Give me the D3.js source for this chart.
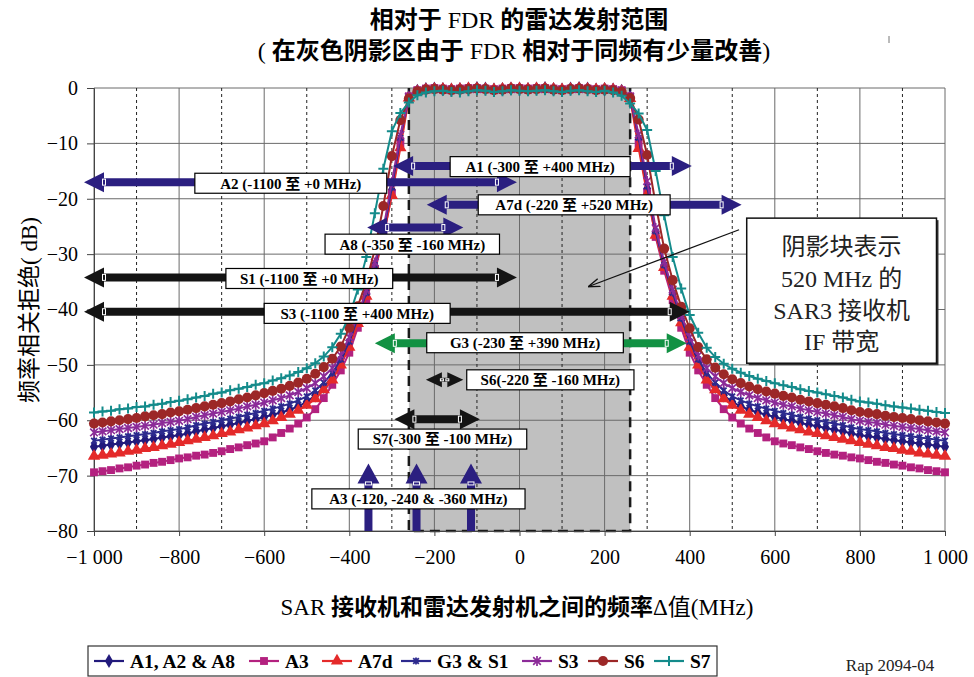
<!DOCTYPE html>
<html>
<head>
<meta charset="utf-8">
<script src="https://cdn.jsdelivr.net/npm/d3@7"></script>
<style>
  body { margin: 0; background: #fff; }
  svg { display: block; }
</style>
</head>
<body>
<svg id="chart" width="974" height="677"></svg>
<script>
// Frequency offset between SAR receiver and radar transmitter (MHz), one sample every 20 MHz
const freq = [
  -1000,-980,-960,-940,-920,-900,-880,-860,-840,-820,-800,-780,-760,-740,-720,-700,-680,-660,-640,-620,
  -600,-580,-560,-540,-520,-500,-480,-460,-440,-420,-400,-380,-360,-340,-320,-300,-280,-260,-240,-220,
  -200,-180,-160,-140,-120,-100,-80,-60,-40,-20,0,20,40,60,80,100,120,140,160,180,
  200,220,240,260,280,300,320,340,360,380,400,420,440,460,480,500,520,540,560,580,
  600,620,640,660,680,700,720,740,760,780,800,820,840,860,880,900,920,940,960,980,1000
];

// Frequency dependent rejection (dB) for each radar
const rejA1 = [
  -64.8,-64.6,-64.4,-64.2,-64.0,-63.8,-63.6,-63.4,-63.1,-62.9,-62.7,-62.4,-62.0,-61.7,-61.4,-61.1,-60.8,-60.5,-60.1,-59.8,-59.4,-59.0,-58.6,-58.1,-57.5,-56.7,-55.5,-54.0,-52.1,-49.5,
  -46.2,-42.0,-37.3,-32.2,-26.3,-18.4,-9.4,-1.6,
  -0.5,-0.2,-0.1,-0.2,-0.3,-0.2,-0.1,0.0,-0.1,-0.3,-0.2,-0.1,-0.1,-0.2,-0.1,0.0,-0.2,-0.3,-0.1,0.0,-0.1,-0.3,-0.2,-0.3,-0.5,
  -1.6,-9.3,-18.2,-26.2,-32.2,-37.3,-42.0,-46.2,
  -49.5,-52.1,-54.0,-55.5,-56.7,-57.5,-58.1,-58.6,-59.0,-59.4,-59.8,-60.1,-60.5,-60.8,-61.1,-61.4,-61.7,-62.0,-62.4,-62.7,-62.9,-63.1,-63.4,-63.6,-63.8,-64.0,-64.2,-64.4,-64.6,-64.8
];
const rejA3 = [
  -69.4,-69.2,-69.0,-68.7,-68.5,-68.2,-68.0,-67.7,-67.5,-67.2,-66.9,-66.7,-66.4,-66.2,-65.9,-65.6,-65.2,-64.9,-64.5,-64.2,-63.8,-63.1,-62.3,-61.5,-60.6,-59.5,-58.0,-56.0,-53.6,-51.0,
  -47.8,-43.3,-38.3,-33.0,-27.0,-19.0,-10.0,-1.5,
  -0.4,-0.1,0.0,-0.1,-0.2,-0.1,0.0,0.0,-0.1,-0.2,-0.1,0.0,0.0,-0.1,0.0,0.0,-0.1,-0.2,-0.1,0.0,-0.1,-0.2,-0.1,-0.2,-0.4,
  -1.5,-10.1,-18.9,-26.9,-33.0,-38.3,-43.3,-47.8,
  -51.0,-53.6,-56.0,-58.0,-59.5,-60.6,-61.5,-62.3,-63.1,-63.8,-64.2,-64.5,-64.9,-65.2,-65.6,-65.9,-66.2,-66.4,-66.7,-66.9,-67.2,-67.5,-67.7,-68.0,-68.2,-68.5,-68.7,-69.0,-69.2,-69.4
];
const rejA7d = [
  -66.5,-66.3,-66.1,-65.9,-65.6,-65.4,-65.1,-64.9,-64.6,-64.3,-64.0,-63.7,-63.4,-63.1,-62.8,-62.4,-62.1,-61.7,-61.4,-61.0,-60.6,-60.1,-59.5,-58.9,-58.2,-57.3,-56.1,-54.5,-52.7,-50.0,
  -46.8,-42.5,-37.6,-32.5,-26.8,-19.4,-10.8,-1.8,
  -0.6,-0.3,-0.2,-0.2,-0.3,-0.2,-0.1,-0.1,-0.2,-0.3,-0.2,-0.1,-0.1,-0.2,-0.1,-0.1,-0.2,-0.3,-0.2,-0.1,-0.2,-0.3,-0.2,-0.3,-0.6,
  -1.9,-10.9,-19.2,-26.6,-32.4,-37.6,-42.4,-46.8,
  -50.0,-52.7,-54.5,-56.1,-57.3,-58.2,-58.9,-59.5,-60.1,-60.6,-61.0,-61.4,-61.7,-62.1,-62.4,-62.8,-63.1,-63.4,-63.7,-64.0,-64.3,-64.6,-64.9,-65.1,-65.4,-65.6,-65.9,-66.1,-66.3,-66.5
];
const rejG3 = [
  -63.7,-63.5,-63.3,-63.1,-62.9,-62.7,-62.5,-62.3,-62.0,-61.8,-61.6,-61.3,-60.9,-60.6,-60.3,-60.0,-59.7,-59.4,-59.0,-58.7,-58.3,-57.9,-57.5,-57.0,-56.4,-55.7,-54.6,-53.2,-51.5,-49.0,
  -45.8,-41.5,-37.0,-32.0,-26.0,-18.0,-9.0,-1.6,
  -0.6,-0.3,-0.3,-0.4,-0.4,-0.3,-0.3,-0.2,-0.3,-0.4,-0.3,-0.2,-0.3,-0.3,-0.3,-0.2,-0.3,-0.4,-0.3,-0.2,-0.3,-0.4,-0.3,-0.4,-0.6,
  -1.7,-9.0,-17.8,-25.9,-32.0,-37.0,-41.6,-45.8,
  -49.0,-51.5,-53.2,-54.6,-55.7,-56.4,-57.0,-57.5,-57.9,-58.3,-58.7,-59.0,-59.4,-59.7,-60.0,-60.3,-60.6,-60.9,-61.3,-61.6,-61.8,-62.0,-62.3,-62.5,-62.7,-62.9,-63.1,-63.3,-63.5,-63.7
];
const rejS3 = [
  -62.2,-62.0,-61.8,-61.6,-61.4,-61.2,-61.0,-60.8,-60.5,-60.3,-60.1,-59.8,-59.4,-59.1,-58.8,-58.5,-58.2,-57.9,-57.5,-57.2,-56.8,-56.4,-56.0,-55.5,-54.9,-54.2,-53.3,-52.1,-50.6,-48.3,
  -45.0,-41.0,-36.5,-31.5,-25.5,-17.0,-8.5,-1.6,
  -0.5,-0.3,-0.2,-0.3,-0.4,-0.3,-0.2,-0.2,-0.2,-0.4,-0.3,-0.2,-0.2,-0.3,-0.2,-0.2,-0.3,-0.4,-0.2,-0.2,-0.2,-0.4,-0.3,-0.3,-0.5,
  -1.6,-8.4,-16.8,-25.3,-31.4,-36.4,-41.0,-45.0,
  -48.3,-50.6,-52.1,-53.3,-54.2,-54.9,-55.5,-56.0,-56.4,-56.8,-57.2,-57.5,-57.9,-58.2,-58.5,-58.8,-59.1,-59.4,-59.8,-60.1,-60.3,-60.5,-60.8,-61.0,-61.2,-61.4,-61.6,-61.8,-62.0,-62.2
];
const rejS6 = [
  -60.6,-60.4,-60.2,-60.0,-59.8,-59.6,-59.3,-59.1,-58.9,-58.6,-58.4,-58.1,-57.8,-57.5,-57.2,-56.9,-56.6,-56.2,-55.9,-55.5,-55.1,-54.7,-54.3,-53.8,-53.2,-52.5,-51.6,-50.4,-48.9,-46.7,
  -43.3,-39.4,-35.0,-29.2,-21.3,-12.3,-5.8,-1.9,
  -0.6,-0.3,-0.2,-0.3,-0.4,-0.3,-0.2,-0.1,-0.2,-0.4,-0.3,-0.1,-0.2,-0.3,-0.2,-0.1,-0.3,-0.4,-0.2,-0.1,-0.2,-0.4,-0.3,-0.4,-0.7,
  -1.8,-5.7,-12.1,-21.0,-29.0,-34.7,-39.5,-43.4,
  -46.8,-49.0,-50.5,-51.7,-52.6,-53.3,-53.9,-54.4,-54.8,-55.2,-55.6,-55.9,-56.3,-56.6,-56.9,-57.2,-57.5,-57.8,-58.2,-58.5,-58.7,-58.9,-59.2,-59.4,-59.6,-59.8,-60.0,-60.2,-60.4,-60.6
];
const rejS7 = [
  -58.6,-58.4,-58.3,-58.0,-57.9,-57.6,-57.5,-57.2,-57.0,-56.7,-56.5,-56.2,-55.9,-55.6,-55.2,-55.0,-54.6,-54.3,-54.0,-53.6,-53.3,-52.8,-52.4,-51.9,-51.3,-50.6,-49.7,-48.5,-46.8,-44.4,
  -41.2,-36.4,-30.5,-22.6,-14.6,-7.8,-4.5,-2.6,
  -1.3,-0.8,-0.6,-0.5,-0.7,-0.8,-0.6,-0.4,-0.5,-0.7,-0.6,-0.4,-0.5,-0.6,-0.5,-0.4,-0.6,-0.7,-0.5,-0.4,-0.6,-0.7,-0.5,-0.8,-1.4,
  -2.8,-4.6,-7.6,-15.0,-23.0,-30.5,-36.2,-41.0,
  -44.2,-46.9,-48.6,-49.8,-50.7,-51.4,-52.0,-52.5,-52.9,-53.3,-53.7,-54.0,-54.4,-54.7,-55.0,-55.3,-55.6,-55.9,-56.3,-56.6,-56.8,-57.0,-57.3,-57.5,-57.7,-57.9,-58.1,-58.3,-58.5,-58.7
];

const seriesNames = ["A1, A2 & A8", "A3", "A7d", "G3 & S1", "S3", "S6", "S7"];
const seriesValues = [rejA1, rejA3, rejA7d, rejG3, rejS3, rejS6, rejS7];

// Axis ticks
const xTicks = [-1000, -800, -600, -400, -200, 0, 200, 400, 600, 800, 1000];
const xMinorGrid = [-900, -700, -500, -300, -100, 100, 300, 500, 700, 900];
const yTicks = [0, -10, -20, -30, -40, -50, -60, -70, -80];

// SAR3 receiver IF band (520 MHz)
const ifBand = [-260, 260];

// ---------- styling ----------
const seriesStyle = [
  { color: "#221a7c", marker: "diamond" },
  { color: "#b3217f", marker: "square" },
  { color: "#e42a2a", marker: "triangle" },
  { color: "#2d2a8e", marker: "star" },
  { color: "#8c2b98", marker: "asterisk" },
  { color: "#9c2727", marker: "circle" },
  { color: "#148b8b", marker: "plus" }
];
const NAVY = "#2b1f80", BLACK = "#141414", GREEN = "#129143";
const SERIF = "'Liberation Serif', 'Times New Roman', 'Noto Sans CJK SC', serif";
const CJK = "'Liberation Serif', 'Noto Sans CJK SC', sans-serif";

// Range annotations: arrow span (MHz) at a level (dB) and their label boxes
const rangeNotes = [
  { text: "A1 (-300 至 +400 MHz)",  from: -297, to: 405,  level: -14.1, color: NAVY,  box: [-163, 260], boxLevel: -14.2 },
  { text: "A2 (-1100 至 +0 MHz)",   from: -1100, to: -6,  level: -17.0, color: NAVY,  box: [-763, -312], boxLevel: -17.2 },
  { text: "A7d (-220 至 +520 MHz)", from: -218, to: 522,  level: -21.1, color: NAVY,  box: [-97, 354], boxLevel: -21.1 },
  { text: "A8 (-350 至 -160 MHz)",  from: -358, to: -132, level: -25.2, color: NAVY,  box: [-457, -47], boxLevel: -28.2 },
  { text: "S1 (-1100 至 +0 MHz)",   from: -1100, to: -6,  level: -34.2, color: BLACK, box: [-690, -298], boxLevel: -34.4 },
  { text: "S3 (-1100 至 +400 MHz)", from: -1100, to: 400, level: -40.4, color: BLACK, box: [-600, -163], boxLevel: -40.7 },
  { text: "G3 (-230 至 +390 MHz)",  from: -340, to: 393,  level: -46.1, color: GREEN, box: [-218, 244], boxLevel: -46.0 },
  { text: "S6(-220 至 -160 MHz)",   from: -220, to: -132, level: -52.7, color: BLACK, box: [-124, 269], boxLevel: -52.7, small: true },
  { text: "S7(-300 至 -100 MHz)",   from: -294, to: -93,  level: -59.8, color: BLACK, box: [-379, 17], boxLevel: -63.4 }
];
const a3Offsets = [-355, -242, -114];
const a3Top = -67.8;

// ---------- layout ----------
const svg = d3.select("#chart");
const plot = { left: 94, right: 945, top: 88, bottom: 531 };
const x = d3.scaleLinear().domain([-1000, 1000]).range([plot.left, plot.right]);
const y = d3.scaleLinear().domain([-80, 0]).range([plot.bottom, plot.top]);

const loc = d3.formatLocale({ decimal: ".", thousands: " ", grouping: [3], currency: ["", ""], minus: "\u2212" });
const fmt = loc.format(",d");

// Text made of runs in different fonts/weights
function mixedText(g, parts, attrs) {
  const t = g.append("text");
  Object.entries(attrs).forEach(([k, v]) => t.attr(k, v));
  parts.forEach(([s, weight, fam]) => {
    t.append("tspan").attr("font-weight", weight).attr("font-family", fam || CJK).text(s);
  });
  return t;
}

// Titles
mixedText(svg, [["相对于 ", "bold"], ["FDR", "normal", SERIF], [" 的雷达发射范围", "bold"]],
  { x: 519, y: 28, "text-anchor": "middle", "font-size": 24, fill: "#000" });
mixedText(svg, [["(  ", "normal", SERIF], ["在灰色阴影区由于 ", "bold"], ["FDR", "normal", SERIF], [" 相对于同频有少量改善", "bold"], [")", "normal", SERIF]],
  { x: 514, y: 59, "text-anchor": "middle", "font-size": 24, fill: "#000" });
svg.append("line").attr("x1", 889).attr("x2", 889).attr("y1", 36).attr("y2", 43)
  .attr("stroke", "#777").attr("stroke-width", 1);

// Shaded IF band
const gBand = svg.append("g");
gBand.append("rect")
  .attr("x", x(ifBand[0])).attr("y", y(0))
  .attr("width", x(ifBand[1]) - x(ifBand[0])).attr("height", y(-80) - y(0))
  .attr("fill", "#c0c0c0");

// Grid
const gGrid = svg.append("g");
gGrid.selectAll("line.h").data(yTicks).join("line")
  .attr("x1", plot.left).attr("x2", plot.right)
  .attr("y1", d => y(d)).attr("y2", d => y(d))
  .attr("stroke", "#6a6a6a").attr("stroke-width", 1);
gGrid.selectAll("line.vmaj").data(xTicks).join("line")
  .attr("x1", d => x(d)).attr("x2", d => x(d))
  .attr("y1", plot.top).attr("y2", plot.bottom)
  .attr("stroke", "#6a6a6a").attr("stroke-width", 1);
gGrid.selectAll("line.vmin").data(xMinorGrid).join("line")
  .attr("x1", d => x(d)).attr("x2", d => x(d))
  .attr("y1", plot.top).attr("y2", plot.bottom)
  .attr("stroke", "#222").attr("stroke-width", 1).attr("stroke-dasharray", "3,3");

// Dashed outline of the IF band
const bx0 = x(ifBand[0]), bx1 = x(ifBand[1]);
svg.append("path")
  .attr("d", `M${bx0},${y(0)}V${y(-80)}H${bx1}V${y(0)}`)
  .attr("fill", "none").attr("stroke", "#1a1a1a").attr("stroke-width", 2.5)
  .attr("stroke-dasharray", "10,6");

// Axes
const xAxis = d3.axisBottom(x).tickValues(xTicks).tickFormat(fmt).tickSize(5).tickPadding(14);
const gx = svg.append("g").attr("transform", `translate(0,${plot.bottom})`).call(xAxis);
gx.select(".domain").attr("stroke", "#444");
gx.selectAll(".tick line").attr("stroke", "#444");
gx.selectAll("text").attr("font-family", SERIF).attr("font-size", 20).attr("fill", "#000");

const yAxis = d3.axisLeft(y).tickValues(yTicks).tickFormat(fmt).tickSize(7).tickPadding(9);
const gy = svg.append("g").attr("transform", `translate(${plot.left},0)`).call(yAxis);
gy.select(".domain").attr("stroke", "#444");
gy.selectAll(".tick line").attr("stroke", "#444");
gy.selectAll("text").attr("font-family", SERIF).attr("font-size", 20).attr("fill", "#000");

// Axis titles
mixedText(svg, [["SAR ", "normal", SERIF], ["接收机和雷达发射机之间的频率", "bold"], ["Δ值(MHz)", "normal", SERIF]],
  { x: 517, y: 615, "text-anchor": "middle", "font-size": 23, fill: "#000" });
mixedText(svg, [["频率相关拒绝", "normal"], ["( dB)", "normal", SERIF]],
  { transform: "translate(37,310) rotate(-90)", "text-anchor": "middle", "font-size": 23, fill: "#000" });

// Marker glyphs
function drawMarker(sel, type, color) {
  switch (type) {
    case "diamond":
      sel.append("path").attr("d", d3.symbol(d3.symbolDiamond, 58)()).attr("fill", color); break;
    case "square":
      sel.append("path").attr("d", d3.symbol(d3.symbolSquare, 62)()).attr("fill", color); break;
    case "triangle":
      sel.append("path").attr("d", d3.symbol(d3.symbolTriangle, 66)()).attr("fill", color); break;
    case "circle":
      sel.append("path").attr("d", d3.symbol(d3.symbolCircle, 80)()).attr("fill", color); break;
    case "star":
      sel.append("path").attr("d", "M-2.8,-2.8L2.8,2.8M-2.8,2.8L2.8,-2.8M0,-3.6V3.6")
        .attr("stroke", color).attr("stroke-width", 1.8).attr("fill", "none"); break;
    case "asterisk":
      sel.append("path").attr("d", "M-3.8,-3.8L3.8,3.8M-3.8,3.8L3.8,-3.8M0,-5V5")
        .attr("stroke", color).attr("stroke-width", 1.7).attr("fill", "none"); break;
    case "plus":
      sel.append("path").attr("d", "M-5,0H5M0,-5V5")
        .attr("stroke", color).attr("stroke-width", 2).attr("fill", "none"); break;
  }
}

// Curves
const line = d3.line().x(d => x(d[0])).y(d => y(d[1]));
const gSeries = svg.append("g");
seriesValues.forEach((vals, i) => {
  const pts = freq.map((f, k) => [f, vals[k]]);
  const st = seriesStyle[i];
  const g = gSeries.append("g");
  g.append("path").datum(pts).attr("d", line)
    .attr("fill", "none").attr("stroke", st.color).attr("stroke-width", 2);
  g.selectAll("g.m").data(pts).join("g")
    .attr("transform", d => `translate(${x(d[0])},${y(d[1])})`)
    .each(function () { drawMarker(d3.select(this), st.marker, st.color); });
});

// Block arrows
function hArrow(g, xa, xb, yc, color, o) {
  const sh = o.shaft / 2, hh = o.head / 2, hl = o.len;
  const pts = [[xa, yc], [xa + hl, yc - hh], [xa + hl, yc - sh], [xb - hl, yc - sh], [xb - hl, yc - hh],
               [xb, yc], [xb - hl, yc + hh], [xb - hl, yc + sh], [xa + hl, yc + sh], [xa + hl, yc + hh]];
  g.append("polygon").attr("points", pts.map(p => p.join(",")).join(" ")).attr("fill", color);
  [xa + hl, xb - hl].forEach(px => {
    g.append("rect").attr("x", px - 1.5).attr("y", yc - sh + 1).attr("width", 3).attr("height", 2 * sh - 2)
      .attr("fill", color).attr("stroke", "#fff").attr("stroke-width", 1);
  });
}
function vArrow(g, xc, ya, yb, color, o) { // ya = tip (top), yb = base
  const sh = o.shaft / 2, hh = o.head / 2, hl = o.len;
  const pts = [[xc, ya], [xc + hh, ya + hl], [xc + sh, ya + hl], [xc + sh, yb], [xc - sh, yb], [xc - sh, ya + hl], [xc - hh, ya + hl]];
  g.append("polygon").attr("points", pts.map(p => p.join(",")).join(" ")).attr("fill", color);
  g.append("rect").attr("x", xc - sh + 1).attr("y", ya + hl - 1.5).attr("width", 2 * sh - 2).attr("height", 3)
    .attr("fill", color).attr("stroke", "#fff").attr("stroke-width", 1);
}
function labelBox(g, text, x0, x1, yc) {
  const h = 20;
  g.append("rect").attr("x", x0).attr("y", yc - h / 2).attr("width", x1 - x0).attr("height", h)
    .attr("fill", "#fff").attr("stroke", "#000").attr("stroke-width", 1.2);
  g.append("text").attr("x", (x0 + x1) / 2).attr("y", yc).attr("dy", "0.36em")
    .attr("text-anchor", "middle").attr("font-family", CJK).attr("font-weight", "bold")
    .attr("font-size", 15).attr("fill", "#000").text(text);
}

const gNotes = svg.append("g");
const xEdgeMin = x.invert(plot.left - 10);
rangeNotes.forEach(n => {
  const xa = x(Math.max(n.from, xEdgeMin)), xb = x(n.to);
  const o = n.small ? { shaft: 4, head: 15, len: 16 } : { shaft: 8, head: 20, len: 20 };
  hArrow(gNotes, xa, xb, y(n.level), n.color, o);
});
// A3 spot frequencies: vertical arrows from the axis floor
a3Offsets.forEach(f => vArrow(gNotes, x(f), y(a3Top), y(-80), NAVY, { shaft: 8, head: 22, len: 20 }));
rangeNotes.forEach(n => labelBox(gNotes, n.text, x(n.box[0]), x(n.box[1]), y(n.boxLevel)));
labelBox(gNotes, "A3 (-120, -240 & -360 MHz)", x(-488), x(13), y(-74.2));

// Explanatory note with pointer into the band
const gInfo = svg.append("g");
svg.append("defs").append("marker").attr("id", "ptr").attr("viewBox", "0 0 10 10")
  .attr("refX", 9).attr("refY", 5).attr("markerWidth", 9).attr("markerHeight", 9).attr("orient", "auto")
  .append("path").attr("d", "M0,1.5L10,5L0,8.5").attr("fill", "none").attr("stroke", "#111").attr("stroke-width", 1.2);
gInfo.append("line").attr("x1", x(516)).attr("y1", y(-25.6)).attr("x2", x(164)).attr("y2", y(-35.8))
  .attr("stroke", "#111").attr("stroke-width", 1.3).attr("marker-end", "url(#ptr)");
const ibx0 = x(534), ibx1 = x(980), iby0 = y(-23.5), iby1 = y(-49.7);
gInfo.append("rect").attr("x", ibx0 + 2).attr("y", iby0 + 2).attr("width", ibx1 - ibx0).attr("height", iby1 - iby0).attr("fill", "#333");
gInfo.append("rect").attr("x", ibx0).attr("y", iby0).attr("width", ibx1 - ibx0).attr("height", iby1 - iby0)
  .attr("fill", "#fff").attr("stroke", "#111").attr("stroke-width", 1.5);
const infoLines = [
  [["阴影块表示", "normal"]],
  [["520 MHz ", "normal", SERIF], ["的", "normal"]],
  [["SAR3 ", "normal", SERIF], ["接收机", "normal"]],
  [["IF ", "normal", SERIF], ["带宽", "normal"]]
];
infoLines.forEach((parts, i) => {
  mixedText(gInfo, parts, { x: (ibx0 + ibx1) / 2, y: iby0 + 37 + i * 31.7, "text-anchor": "middle", "font-size": 24, fill: "#222" });
});

// Legend
const gLeg = svg.append("g");
gLeg.append("rect").attr("x", 88).attr("y", 646).attr("width", 629).attr("height", 30)
  .attr("fill", "#fff").attr("stroke", "#333").attr("stroke-width", 1.2);
const legX = [94, 249, 322, 401, 522, 588, 654];
seriesNames.forEach((name, i) => {
  const g = gLeg.append("g").attr("transform", `translate(${legX[i]},661)`);
  g.append("line").attr("x1", 0).attr("x2", 30).attr("stroke", seriesStyle[i].color).attr("stroke-width", 2.2);
  drawMarker(g.append("g").attr("transform", "translate(15,0)"), seriesStyle[i].marker, seriesStyle[i].color);
  g.append("text").attr("x", 36).attr("dy", "0.35em").attr("font-family", SERIF).attr("font-weight", "bold")
    .attr("font-size", 19.5).attr("fill", "#000").text(name);
});
svg.append("text").attr("x", 890).attr("y", 671).attr("text-anchor", "middle")
  .attr("font-family", SERIF).attr("font-size", 17).attr("fill", "#222").text("Rap 2094-04");
</script>
</body>
</html>
